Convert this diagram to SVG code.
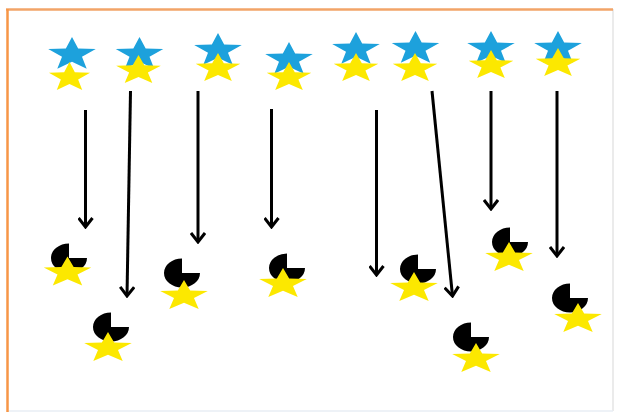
<svg xmlns="http://www.w3.org/2000/svg" width="626" height="420" viewBox="0 0 626 420">
<style>
.blue{fill:#1DA1DC}
.yellow{fill:#FCE800}
.pac{fill:#000}
.conn line{stroke:#000;stroke-width:3;marker-end:url(#head)}
</style>
<defs>
<path id="bstar" d="M0,-17.5 L6.17,-5.95 L23.78,-5.41 L9.99,2.27 L14.70,14.16 L0,7.35 L-14.70,14.16 L-9.99,2.27 L-23.78,-5.41 L-6.17,-5.95 Z"/>
<path id="ystar" d="M0,-15.5 L5.80,-5.27 L22.35,-4.79 L9.39,2.01 L13.81,12.54 L0,6.51 L-13.81,12.54 L-9.39,2.01 L-22.35,-4.79 L-5.80,-5.27 Z"/>
<path id="ystar2" d="M0,-16 L6.17,-5.44 L23.78,-4.94 L9.99,2.08 L14.70,12.94 L0,6.72 L-14.70,12.94 L-9.99,2.08 L-23.78,-4.94 L-6.17,-5.44 Z"/>
<path id="pacman" d="M0,0 L18,0 A18,14.5 0 1 1 0,-14.5 Z"/>
<marker id="head" viewBox="-11 -8 13 16" refX="0" refY="0" markerWidth="13" markerHeight="16" markerUnits="userSpaceOnUse" orient="auto">
<path d="M-9,-7 L0,0 L-9,7" fill="none" stroke="#000" stroke-width="3"/>
</marker>
</defs>
<rect width="626" height="420" fill="#fff"/>
<g id="frame">
<line x1="613" y1="9" x2="613" y2="411" stroke="#e4e4e4" stroke-width="1.5"/>
<line x1="7" y1="411" x2="613" y2="411" stroke="#e8eef4" stroke-width="1.5"/>
<line x1="6" y1="9.5" x2="613" y2="9.5" stroke="#F2A468" stroke-width="2.5"/>
<line x1="7.5" y1="9" x2="7.5" y2="412" stroke="#F79646" stroke-width="2.5"/>
</g>
<g id="top1"><use href="#bstar" class="blue" x="72" y="54.5"/><use href="#ystar" class="yellow" transform="translate(69.5,77.5) scale(0.92,1)"/></g>
<g id="top2"><use href="#bstar" class="blue" x="139.5" y="54.5"/><use href="#ystar" class="yellow" x="138.5" y="70.5"/></g>
<g id="top3"><use href="#bstar" class="blue" x="218" y="50.5"/><use href="#ystar" class="yellow" x="218" y="68.5"/></g>
<g id="top4"><use href="#bstar" class="blue" x="289" y="59.5"/><use href="#ystar" class="yellow" x="289" y="77.5"/></g>
<g id="top5"><use href="#bstar" class="blue" x="356" y="49.5"/><use href="#ystar" class="yellow" x="356" y="68.5"/></g>
<g id="top6"><use href="#bstar" class="blue" x="415.5" y="48.5"/><use href="#ystar" class="yellow" x="415" y="68.5"/></g>
<g id="top7"><use href="#bstar" class="blue" x="491" y="48.5"/><use href="#ystar" class="yellow" x="491" y="65.5"/></g>
<g id="top8"><use href="#bstar" class="blue" x="558" y="48.5"/><use href="#ystar" class="yellow" x="558" y="63.5"/></g>
<g id="bottom1"><use href="#pacman" class="pac" x="69" y="258"/><use href="#ystar2" class="yellow" x="67.5" y="272.5"/></g>
<g id="bottom2"><use href="#pacman" class="pac" x="111" y="327"/><use href="#ystar2" class="yellow" x="108" y="348"/></g>
<g id="bottom3"><use href="#pacman" class="pac" x="182" y="273"/><use href="#ystar2" class="yellow" x="184" y="296"/></g>
<g id="bottom4"><use href="#pacman" class="pac" x="287" y="268"/><use href="#ystar2" class="yellow" x="283" y="284"/></g>
<g id="bottom5"><use href="#pacman" class="pac" x="418" y="269"/><use href="#ystar2" class="yellow" x="414" y="288"/></g>
<g id="bottom6"><use href="#pacman" class="pac" x="510" y="242"/><use href="#ystar2" class="yellow" x="509" y="258"/></g>
<g id="bottom7"><use href="#pacman" class="pac" x="570" y="298"/><use href="#ystar2" class="yellow" x="578" y="319"/></g>
<g id="bottom8"><use href="#pacman" class="pac" x="471" y="337"/><use href="#ystar2" class="yellow" x="476" y="359"/></g>
<g id="connectors" class="conn">
<line x1="85.5" y1="110" x2="85.5" y2="227"/>
<line x1="130.5" y1="91" x2="127" y2="296"/>
<line x1="198" y1="91" x2="198" y2="242"/>
<line x1="271.5" y1="109" x2="271.5" y2="227"/>
<line x1="376.5" y1="110" x2="376.5" y2="275"/>
<line x1="432" y1="91" x2="452.5" y2="296"/>
<line x1="491" y1="91" x2="491" y2="209"/>
<line x1="557" y1="91" x2="557" y2="256"/>
</g>
</svg>
